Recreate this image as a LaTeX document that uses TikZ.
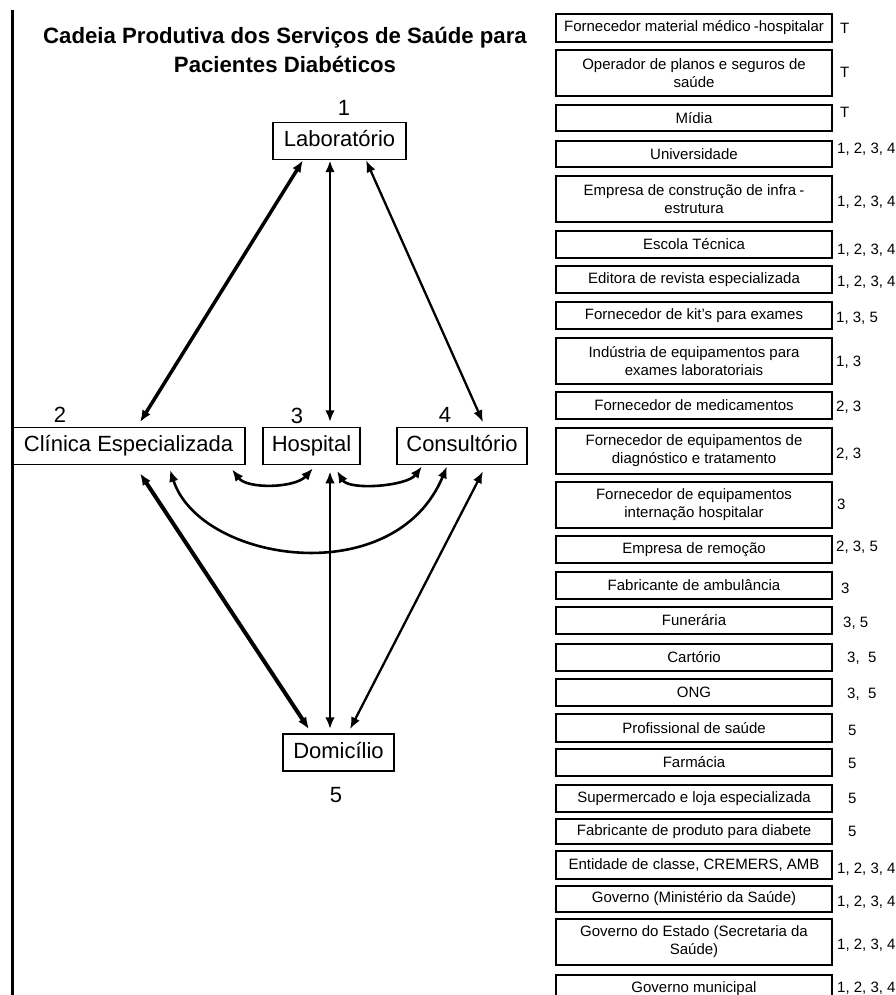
\documentclass[tikz,border=0pt]{standalone}
\usepackage{fontspec}
\setmainfont{Liberation Sans}
\usetikzlibrary{arrows.meta,calc}

\begin{document}
\begin{tikzpicture}[x=1pt,y=-1pt,
  place/.style={draw, line width=1.5pt, inner sep=0pt, minimum height=37pt,
    text height=16pt, text depth=4.5pt, font=\fontsize{22}{26}\selectfont},
  placenum/.style={inner sep=0pt, font=\fontsize{22}{26}\selectfont},
  actor/.style={draw, line width=1.6pt, minimum width=276pt, inner sep=0pt,
    align=center, font=\fontsize{15}{18}\selectfont},
  tag/.style={anchor=west, inner sep=0pt, font=\fontsize{15}{18}\selectfont},
  link/.style={line width=2.4pt, {Latex[length=12pt,width=9.5pt]}-{Latex[length=12pt,width=9.5pt]}},
]
\fill[white] (0,0) rectangle (896,995);
\useasboundingbox (0,0) rectangle (896,995);

% left margin rule
\coordinate (ruleTop) at (12.5,10);
\coordinate (ruleBot) at (12.5,995);
\draw[line width=3pt] (ruleTop) -- (ruleBot);

% title
\node[align=center, inner sep=0pt, font=\bfseries\fontsize{22.2}{29}\selectfont]
  (title) at (285,50) {Cadeia Produtiva dos Serviços de Saúde para\\Pacientes Diabéticos};

% service nodes of the chain
\node[place, minimum width=133pt] (lab) at (339.5,141) {Laboratório};
\node[place, minimum width=233pt] (cli) at (128.5,446) {Clínica Especializada};
\node[place, minimum width=97pt]  (hos) at (311.5,446) {Hospital};
\node[place, minimum width=130pt] (con) at (462,446)   {Consultório};
\node[place, minimum width=111pt] (dom) at (338.5,752.5) {Domicílio};

\node[placenum] (n1) at (344,108) {1};
\node[placenum] (n2) at (60,415)  {2};
\node[placenum] (n3) at (297,416) {3};
\node[placenum] (n4) at (445,415) {4};
\node[placenum] (n5) at (336,795) {5};

% connector end points on the nodes
\coordinate (labA) at ([xshift=-36.5pt]lab.south);
\coordinate (labB) at ([xshift=-9.5pt]lab.south);
\coordinate (labC) at ([xshift=26.5pt]lab.south);
\coordinate (cliT) at ([xshift=11.5pt,yshift=4.5pt]cli.north);
\coordinate (hosT) at ([xshift=18.5pt,yshift=4.5pt]hos.north);
\coordinate (conT) at ([xshift=21pt,yshift=4.5pt]con.north);
\coordinate (cliB) at ([xshift=11.5pt,yshift=-8pt]cli.south);
\coordinate (hosB) at ([xshift=18.5pt,yshift=-6pt]hos.south);
\coordinate (conB) at ([xshift=21pt,yshift=-6pt]con.south);
\coordinate (domA) at ([xshift=-29.5pt,yshift=4pt]dom.north);
\coordinate (domB) at ([xshift=-8.5pt,yshift=4pt]dom.north);
\coordinate (domC) at ([xshift=11.5pt,yshift=4pt]dom.north);

\coordinate (cliR) at ([xshift=103.5pt,yshift=-4pt]cli.south);
\coordinate (cliM) at ([xshift=41.5pt,yshift=-4.5pt]cli.south);
\coordinate (hosL) at ([xshift=1.5pt,yshift=-3pt]hos.south);
\coordinate (hosR) at ([xshift=25.5pt,yshift=-5.5pt]hos.south);
\coordinate (conL) at ([xshift=-40pt,yshift=-1pt]con.south);
\coordinate (conM) at ([xshift=-15pt,yshift=-1pt]con.south);

% straight links
\draw[link, line width=3.5pt] (labA) -- (cliT);
\draw[link, line width=2.8pt] (labB) -- (hosT);
\draw[link, line width=2.3pt] (labC) -- (conT);
\draw[link, line width=4pt]   (cliB) -- (domA);
\draw[link, line width=2.6pt] (hosB) -- (domB);
\draw[link, line width=2.3pt] (conB) -- (domC);

% curved links between the middle row
\draw[link, line width=2.6pt] (cliR) .. controls +(15,20) and +(-18,20) .. (hosL);
\draw[link, line width=2.6pt] (hosR) .. controls +(12,20) and +(-15,20) .. (conL);
\draw[link, line width=2.6pt] (cliM) .. controls +(30,93) and +(-52,126) .. (conM);

% actors around the chain
\node[actor, minimum height=28pt] (a1)  at (694,28)    {Fornecedor material médico\kern3pt-hospitalar};
\node[actor, minimum height=46pt] (a2)  at (694,73)    {Operador de planos e seguros de\\saúde};
\node[actor, minimum height=26pt] (a3)  at (694,118)   {Mídia};
\node[actor, minimum height=26pt] (a4)  at (694,154)   {Universidade};
\node[actor, minimum height=46pt] (a5)  at (694,199)   {Empresa de construção de infra\kern3pt-\\estrutura};
\node[actor, minimum height=27pt] (a6)  at (694,244.5) {Escola Técnica};
\node[actor, minimum height=27pt] (a7)  at (694,279.5) {Editora de revista especializada};
\node[actor, minimum height=27pt] (a8)  at (694,315.5) {Fornecedor de kit's para exames};
\node[actor, minimum height=46pt] (a9)  at (694,361)   {Indústria de equipamentos para\\exames laboratoriais};
\node[actor, minimum height=27pt] (a10) at (694,405.5) {Fornecedor de medicamentos};
\node[actor, minimum height=46pt] (a11) at (694,451)   {Fornecedor de equipamentos de\\diagnóstico e tratamento};
\node[actor, minimum height=46pt] (a12) at (694,505)   {Fornecedor de equipamentos\\internação hospitalar};
\node[actor, minimum height=27pt] (a13) at (694,549.5) {Empresa de remoção};
\node[actor, minimum height=27pt] (a14) at (694,585.5) {Fabricante de ambulância};
\node[actor, minimum height=27pt] (a15) at (694,620.5) {Funerária};
\node[actor, minimum height=27pt] (a16) at (694,657.5) {Cartório};
\node[actor, minimum height=27pt] (a17) at (694,692.5) {ONG};
\node[actor, minimum height=28pt] (a18) at (694,728)   {Profissional de saúde};
\node[actor, minimum height=27pt] (a19) at (694,762.5) {Farmácia};
\node[actor, minimum height=27pt] (a20) at (694,798.5) {Supermercado e loja especializada};
\node[actor, minimum height=25pt] (a21) at (694,831.5) {Fabricante de produto para diabete};
\node[actor, minimum height=28pt] (a22) at (694,865)   {Entidade de classe, CREMERS, AMB};
\node[actor, minimum height=26pt] (a23) at (694,899)   {Governo (Ministério da Saúde)};
\node[actor, minimum height=46pt] (a24) at (694,942)   {Governo do Estado (Secretaria da\\Saúde)};
\node[actor, minimum height=27pt] (a25) at (694,988.5) {Governo municipal};

% which links of the chain each actor serves
\node[tag] (t1)  at (840,28)  {T};
\node[tag] (t2)  at (840,72)  {T};
\node[tag] (t3)  at (840,112) {T};
\node[tag] (t4)  at (837,149) {1, 2, 3, 4};
\node[tag] (t5)  at (837,202) {1, 2, 3, 4};
\node[tag] (t6)  at (837,250) {1, 2, 3, 4};
\node[tag] (t7)  at (837,282) {1, 2, 3, 4};
\node[tag] (t8)  at (836,318) {1, 3, 5};
\node[tag] (t9)  at (836,362) {1, 3};
\node[tag] (t10) at (836,407) {2, 3};
\node[tag] (t11) at (836,454) {2, 3};
\node[tag] (t12) at (837,504) {3};
\node[tag] (t13) at (836,547) {2, 3, 5};
\node[tag] (t14) at (841,588) {3};
\node[tag] (t15) at (843,623) {3, 5};
\node[tag] (t16) at (847,658) {3,\ \ 5};
\node[tag] (t17) at (847,694) {3,\ \ 5};
\node[tag] (t18) at (848,730) {5};
\node[tag] (t19) at (848,763) {5};
\node[tag] (t20) at (848,798) {5};
\node[tag] (t21) at (848,831) {5};
\node[tag] (t22) at (837,869) {1, 2, 3, 4};
\node[tag] (t23) at (837,902) {1, 2, 3, 4};
\node[tag] (t24) at (837,945) {1, 2, 3, 4};
\node[tag] (t25) at (837,988) {1, 2, 3, 4};
\end{tikzpicture}
\end{document}
